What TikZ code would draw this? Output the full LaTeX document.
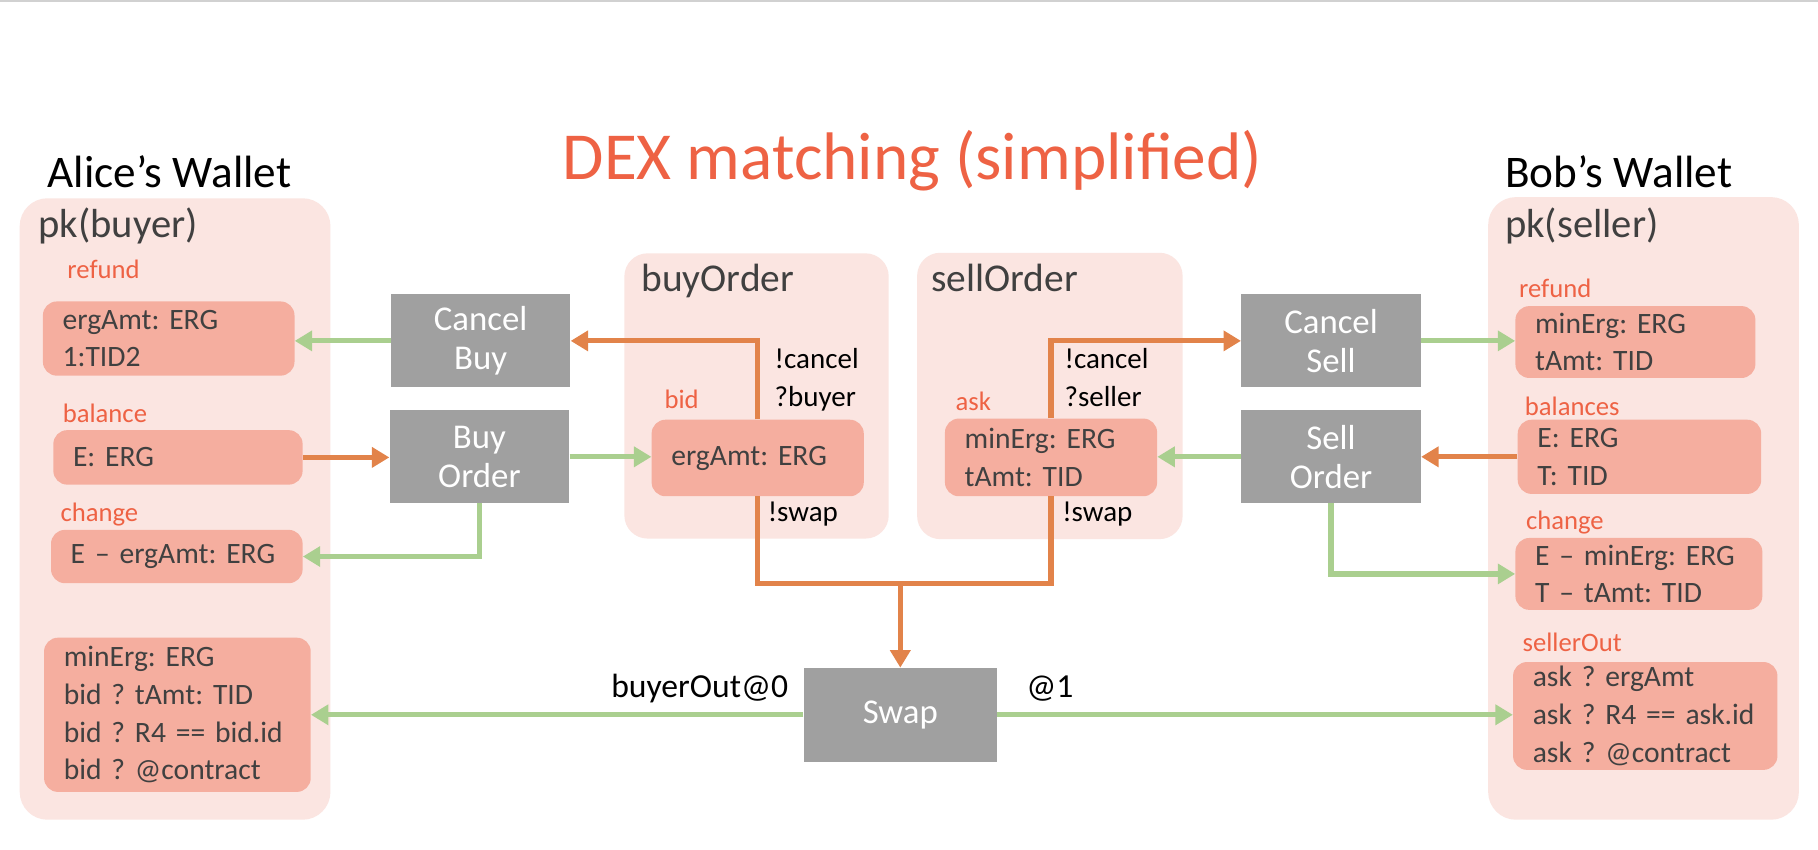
\documentclass[tikz,border=0pt]{standalone}
\usepackage{fontspec}
\setmainfont{Carlito}
\usepackage{xcolor}
\usetikzlibrary{arrows.meta}
\definecolor{Wallet Pink}{HTML}{FBE5E1}
\definecolor{Box Salmon}{HTML}{F5AE9F}
\definecolor{Step Gray}{HTML}{A0A0A0}
\definecolor{Line Orange}{HTML}{E2834A}
\definecolor{Line Green}{HTML}{AACF8F}
\definecolor{Label Red}{HTML}{EE6244}
\definecolor{Text Gray}{HTML}{404040}

\begin{document}
\frenchspacing
\begin{tikzpicture}[x=1pt, y=-1pt]
  \tikzstyle{container}=[fill=Wallet Pink, rounded corners=24pt, inner sep=0pt]
  \tikzstyle{token}=[fill=Box Salmon, rounded corners=12pt, inner xsep=17pt, inner ysep=0pt, align=left, text=Text Gray, font=\fontsize{25.5}{32.5}\selectfont]
  \tikzstyle{action}=[fill=Step Gray, text=white, align=center, minimum width=155pt, minimum height=80pt, inner sep=0pt, font=\fontsize{30}{34}\selectfont]
  \tikzstyle{tag}=[anchor=base west, text=Label Red, inner sep=0pt, font=\fontsize{23}{23}\selectfont]
  \tikzstyle{guard}=[anchor=base west, inner sep=0pt, font=\fontsize{25}{25}\selectfont]
  \tikzstyle{head}=[anchor=base west, inner sep=0pt, text=Text Gray, font=\fontsize{35}{35}\selectfont]
  \tikzstyle{orange line}=[draw=Line Orange, line width=4.5pt]
  \tikzstyle{green line}=[draw=Line Green, line width=4.5pt]
  \tikzstyle{tip}=[-{Triangle[length=15pt,width=17pt]}]

  \useasboundingbox (0,0) rectangle (1568,733);
  \fill[white] (0,0) rectangle (1568,733);
  \fill[black!18] (0,0) rectangle (1568,2);

  % Draw the wallets and the order contracts
  \node[container, minimum width=268pt, minimum height=536pt] (alice) at (151,439) {};
  \node[container, minimum width=268pt, minimum height=537pt] (bob) at (1417.5,438.5) {};
  \node[container, rounded corners=20pt, minimum width=228pt, minimum height=246pt] (buyorder) at (652.5,341.5) {};
  \node[container, rounded corners=20pt, minimum width=229pt, minimum height=247pt] (sellorder) at (905.5,341.5) {};

  % Titles
  \node[anchor=base, inner sep=0pt, text=Label Red, font=\fontsize{58}{58}\selectfont] (title) at (787,155) {DEX matching (simplified)};
  \node[anchor=base west, inner sep=0pt, font=\fontsize{39}{39}\selectfont] (alice-name) at (41,162) {Alice’s Wallet};
  \node[anchor=base west, inner sep=0pt, font=\fontsize{39}{39}\selectfont] (bob-name) at (1298,162) {Bob’s Wallet};
  \node[head] (alice-pk) at (33,205) {pk(buyer)};
  \node[head] (bob-pk) at (1298,205) {pk(seller)};
  \node[head, font=\fontsize{34}{34}\selectfont] (buy-name) at (553,251) {buyOrder};
  \node[head, font=\fontsize{34}{34}\selectfont] (sell-name) at (803,251) {sellOrder};

  % Draw the boxes
  \node[token, text width=183pt, minimum height=64pt] (A-refund) at (145.5,292) {ergAmt: ERG\\1:TID2};
  \node[token, text width=181pt, minimum height=47pt] (A-balance) at (153.5,394.5) {E: ERG};
  \node[token, text width=183pt, minimum height=46pt] (A-change) at (152.5,480) {E – ergAmt: ERG};
  \node[token, text width=196pt, minimum height=133pt] (A-out) at (153,616.5) {minErg: ERG\\bid ? tAmt: TID\\bid ? R4 == bid.id\\bid ? @contract};
  \node[token, text width=149pt, minimum height=66pt] (bid) at (653.5,395) {ergAmt: ERG};
  \node[token, text width=149pt, minimum height=67pt] (ask) at (906.5,394.5) {minErg: ERG\\tAmt: TID};
  \node[token, text width=173pt, minimum height=62pt] (B-refund) at (1410.5,295) {minErg: ERG\\tAmt: TID};
  \node[token, text width=176pt, minimum height=64pt] (B-balance) at (1414,394) {E: ERG\\T: TID};
  \node[token, text width=179pt, minimum height=62pt] (B-change) at (1413.5,495) {E – minErg: ERG\\T – tAmt: TID};
  \node[token, text width=194pt, minimum height=93pt] (B-out) at (1419,617.5) {ask ? ergAmt\\ask ? R4 == ask.id\\ask ? @contract};

  % Draw the transactions
  \node[action] (cancel-buy) at (414.5,294) {Cancel\\Buy};
  \node[action] (buy-order) at (413.5,394) {Buy\\Order};
  \node[action] (cancel-sell) at (1148,294) {Cancel\\Sell};
  \node[action] (sell-order) at (1148,394) {Sell\\Order};
  \node[action, minimum width=167pt, minimum height=81pt] (swap) at (776.5,616.5) {Swap};

  % Annotate the boxes
  \foreach \x/\y/\t [count=\i] in {58/240/refund, 54/364/balance, 52/450/change,
      573/352/bid, 824/354/ask, 1310/257/refund, 1315/358/balances,
      1316/457/change, 1313/562/sellerOut}
      \node[tag] (tag-\i) at (\x,\y) {\t};

  \foreach \x/\y/\t [count=\i] in {668/318/!cancel, 668/351/?buyer, 662/450/!swap,
      918/318/!cancel, 918/351/?seller, 916/450/!swap}
      \node[guard] (guard-\i) at (\x,\y) {\t};

  \node[guard, anchor=base east, font=\fontsize{29}{29}\selectfont] (out-0) at (680,602) {buyerOut@0};
  \node[guard, font=\fontsize{29}{29}\selectfont] (out-1) at (885,602) {@1};

  % Connect the boxes
  \coordinate (join) at (776.5,503);
  \draw[green line, tip] (cancel-buy.west) -- (cancel-buy.west -| A-refund.east);
  \draw[orange line, tip] (A-balance.east) -- (A-balance.east -| buy-order.west);
  \draw[green line, tip] (buy-order.east) -- (buy-order.east -| bid.west);
  \draw[green line, tip] (buy-order.south) |- (A-change.east);
  \draw[orange line, tip] (bid.north) |- (cancel-buy.east);
  \draw[orange line] (bid.south) |- (join) -| (ask.south);
  \draw[orange line, tip] (join) -- (swap.north);
  \draw[orange line, tip] (ask.north) |- (cancel-sell.west);
  \draw[green line, tip] (sell-order.west) -- (sell-order.west -| ask.east);
  \draw[orange line, tip] (B-balance.west) -- (B-balance.west -| sell-order.east);
  \draw[green line, tip] (cancel-sell.east) -- (cancel-sell.east -| B-refund.west);
  \draw[green line, tip] (sell-order.south) |- (B-change.west);
  \draw[green line, tip] (swap.west) -- (swap.west -| A-out.east);
  \draw[green line, tip] (swap.east) -- (swap.east -| B-out.west);

\end{tikzpicture}
\end{document}
